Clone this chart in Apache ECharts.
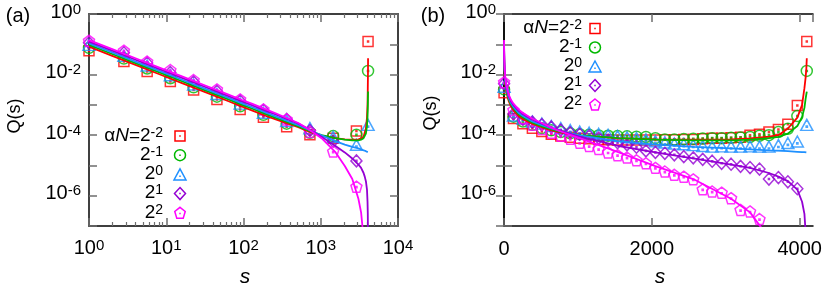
<!DOCTYPE html>
<html><head><meta charset="utf-8">
<script src="https://cdn.jsdelivr.net/npm/echarts@6/dist/echarts.min.js"></script>
<style>html,body{margin:0;padding:0;background:#fff}#c{width:830px;height:290px}</style>
</head><body><div id="c"></div>
<script>
// ---------------- DATA (Q stored as log10 Q) ----------------
const seriesLabels = ['-2', '-1', '0', '1', '2'];          // exponents of alpha*N = 2^k
const colors = ['#ff0000', '#00b800', '#1e90ff', '#9400d3', '#ff00ff'];

// panel (a): log-binned markers
const sA = [1, 2.83, 5.66, 11.3, 22.6, 45.3, 90.5, 181, 362, 724, 1448, 2896, 4096];
const redA     = [-1.21,-1.57,-1.90,-2.23,-2.51,-2.82,-3.15,-3.41,-3.72,-3.99,-4.10,-3.86,-0.91];
const greenA   = [-1.12,-1.47,-1.80,-2.12,-2.42,-2.73,-3.05,-3.33,-3.62,-3.92,-4.03,-3.99,-1.88];
const blueA    = [-1.02,-1.38,-1.70,-2.02,-2.33,-2.64,-2.96,-3.26,-3.53,-3.77,-4.06,-4.32,-3.66];
const purpleA  = [-0.95,-1.28,-1.62,-1.93,-2.24,-2.55,-2.87,-3.18,-3.48,-3.85,-4.20,-4.85,null];
const magentaA = [-0.88,-1.21,-1.57,-1.85,-2.18,-2.49,-2.82,-3.15,-3.48,-3.90,-4.54,-5.70,null];

// panel (b): linear-binned markers
const sB = [1,128,256,384,512,640,768,896,1024,1152,1280,1408,1536,1664,1792,1920,2048,
            2176,2304,2432,2560,2688,2816,2944,3072,3200,3328,3456,3584,3712,3840,3968,4096];
const redB     = [-2.60,-3.45,-3.62,-3.77,-3.88,-3.97,-4.03,-4.07,-4.10,-4.12,-4.14,-4.15,-4.16,-4.16,-4.16,-4.16,-4.16,
                  -4.15,-4.15,-4.14,-4.14,-4.12,-4.10,-4.10,-4.09,-4.07,-4.00,-3.97,-3.90,-3.81,-3.64,-3.02,-0.91];
const greenB   = [-2.49,-3.39,-3.55,-3.66,-3.77,-3.84,-3.90,-3.94,-3.97,-3.99,-4.01,-4.02,-4.03,-4.04,-4.05,-4.06,-4.10,
                  -4.14,-4.14,-4.13,-4.12,-4.11,-4.10,-4.10,-4.09,-4.08,-4.06,-4.02,-4.00,-3.90,-3.79,-3.37,-1.88];
const blueB    = [-2.40,-3.35,-3.45,-3.55,-3.62,-3.70,-3.77,-3.83,-3.88,-3.92,-3.96,-3.99,-4.03,-4.07,-4.10,-4.14,-4.20,
                  -4.24,-4.28,-4.30,-4.33,-4.36,-4.38,-4.37,-4.38,-4.38,-4.37,-4.38,-4.38,-4.33,-4.26,-4.21,-3.66];
const purpleB  = [-2.30,-3.30,-3.48,-3.57,-3.65,-3.73,-3.83,-3.92,-3.97,-4.03,-4.10,-4.16,-4.25,-4.32,-4.40,-4.52,-4.57,
                  -4.60,-4.65,-4.71,-4.75,-4.80,-4.86,-4.93,-4.96,-5.03,-5.07,-5.12,-5.45,-5.40,-5.54,-5.77,null];
const magentaB = [-2.25,-3.17,-3.44,-3.66,-3.80,-3.92,-4.02,-4.12,-4.25,-4.36,-4.46,-4.57,-4.66,-4.74,-4.83,-4.93,-5.08,
                  -5.20,-5.31,-5.37,-5.46,-5.79,-5.86,-5.90,-6.08,-6.47,-6.52,-6.77,null,null,null,null,null];

// theory curves (same in both panels)
const sLine = [1,2,4,8,16,32,64,96,128,192,256,384,512,640,768,1024,1536,2048,2560,3072,3328,3584,3712,3840,3968,4032,4064,4080,4090,4096];
const redL     = [-1.08,-1.38,-1.68,-1.98,-2.28,-2.58,-2.88,-3.06,-3.18,-3.36,-3.47,-3.63,-3.74,-3.84,-3.92,-4.02,-4.10,-4.14,-4.15,-4.14,-4.11,-4.05,-4.00,-3.78,-3.42,-3.00,-2.45,-2.10,-1.80,-1.46];
const greenL   = [-1.02,-1.32,-1.62,-1.92,-2.22,-2.52,-2.82,-3.00,-3.12,-3.30,-3.42,-3.59,-3.71,-3.81,-3.89,-4.00,-4.10,-4.15,-4.17,-4.17,-4.15,-4.10,-4.06,-3.95,-3.70,-3.40,-3.10,-2.80,-2.65,-2.56];
const blueL    = [-0.97,-1.27,-1.57,-1.87,-2.17,-2.47,-2.77,-2.95,-3.07,-3.25,-3.37,-3.55,-3.67,-3.78,-3.87,-4.01,-4.20,-4.31,-4.39,-4.44,-4.47,-4.50,-4.51,-4.53,-4.55,-4.56,-4.56,-4.57,-4.57,-4.57];
const purpleL  = [-0.91,-1.21,-1.51,-1.81,-2.11,-2.41,-2.71,-2.89,-3.01,-3.19,-3.31,-3.49,-3.62,-3.75,-3.86,-4.05,-4.35,-4.57,-4.77,-4.97,-5.08,-5.25,-5.37,-5.52,-5.80,-6.20,-6.60,-7.20,-8.00,-9.00];
const magentaL = [-0.86,-1.16,-1.46,-1.76,-2.06,-2.36,-2.66,-2.84,-2.96,-3.14,-3.27,-3.46,-3.60,-3.75,-3.88,-4.10,-4.55,-5.02,-5.45,-6.10,-6.55,-7.40,-9.00,null,null,null,null,null,null,null];

// ticks / labels
const xTickExpA = [0, 1, 2, 3, 4];
const yTickExp  = [0, -2, -4, -6];
const xTicksB   = [0, 2000, 4000];

// ---------------- RENDER ----------------
const FONT = 'Liberation Sans, Arial, Helvetica, sans-serif';
const markA = [redA, greenA, blueA, purpleA, magentaA];
const markB = [redB, greenB, blueB, purpleB, magentaB];
const lines = [redL, greenL, blueL, purpleL, magentaL];
// unit shapes used for both data symbols and legend keys
const shapes = [
  {pts: [[0,0],[10,0],[10,10],[0,10]], dot: [5,5], size: [10, 10]},
  {circle: true, dot: [5,5], size: [11, 11]},
  {pts: [[5,0],[10,9],[0,9]], dot: [5,6], size: [12, 11]},
  {pts: [[5,0],[10,6],[5,12],[0,6]], dot: [5,6], size: [11, 12]},
  {pts: [[5,0],[9.76,3.45],[7.94,9.05],[2.06,9.05],[0.24,3.45]], dot: [5,5], size: [11, 11]}
];
function symPath(sh) {
  const d = sh.dot;
  const dot = ' M' + (d[0]-0.5) + ',' + (d[1]-0.5) + 'H' + (d[0]+0.5) + 'V' + (d[1]+0.5) + 'H' + (d[0]-0.5) + 'Z';
  if (sh.circle) return 'path://M0,5A5,5,0,1,1,10,5A5,5,0,1,1,0,5Z' + dot;
  return 'path://M' + sh.pts.map(p => p[0] + ',' + p[1]).join('L') + 'Z' + dot;
}
const pair = (xs, ys) => xs.map((x, i) => ys[i] == null ? null : [x, Math.pow(10, ys[i])]).filter(d => d);
const pairLine = (xs, ys) => xs.map((x, i) => [x, ys[i] == null ? null : Math.pow(10, ys[i])]);

const richLab = {
  b: {fontSize: 20, fontFamily: FONT, color: '#000', lineHeight: 24, verticalAlign: 'top'},
  s: {fontSize: 15, fontFamily: FONT, color: '#000', lineHeight: 10, verticalAlign: 'top'}
};
function expLabel(v, list) {
  const e = Math.round(Math.log10(v));
  return list.indexOf(e) >= 0 ? '{b|10}{s|' + e + '}' : '';
}
const mkTick = () => ({show: true, inside: true, length: 8, lineStyle: {color: '#6e6e6e', width: 1.5}});
const mkLine = () => ({show: true, lineStyle: {color: '#000', width: 1.5}});

function logX(grid, pos, labels) {
  return {type: 'log', logBase: 10, gridIndex: grid, position: pos, min: 1, max: 10000,
    axisLine: mkLine(), axisTick: mkTick(),
    minorTick: {show: true, splitNumber: 9, length: 4, lineStyle: {color: '#6e6e6e', width: 1.2}},
    splitLine: {show: false}, minorSplitLine: {show: false},
    axisLabel: labels ? {show: true, margin: 12, showMinLabel: true, showMaxLabel: true,
      formatter: v => expLabel(v, xTickExpA), rich: richLab} : {show: false}};
}
function linX(grid, pos, labels) {
  return {type: 'value', gridIndex: grid, position: pos, min: 0, max: 4180, interval: 2000,
    axisLine: mkLine(), axisTick: mkTick(), splitLine: {show: false},
    axisLabel: labels ? {show: true, margin: 13, showMaxLabel: false,
      formatter: v => xTicksB.indexOf(v) >= 0 ? '{b|' + v + '}' : '', rich: richLab} : {show: false}};
}
function logY(grid, pos, labels) {
  return {type: 'log', logBase: 10, gridIndex: grid, position: pos, min: 1e-7, max: 1,
    axisLine: mkLine(), axisTick: mkTick(), splitLine: {show: false},
    axisLabel: labels ? {show: true, margin: 8, showMinLabel: true, showMaxLabel: true,
      formatter: v => expLabel(v, yTickExp), rich: richLab} : {show: false}};
}

const series = [];
for (let k = 0; k < 5; k++) {
  const base = {type: 'scatter', symbol: symPath(shapes[k]), symbolSize: shapes[k].size, silent: true,
    itemStyle: {color: 'rgba(0,0,0,0)', borderColor: colors[k], borderWidth: 1.5}, z: 2};
  series.push(Object.assign({}, base, {xAxisIndex: 0, yAxisIndex: 0, data: pair(sA, markA[k])}));
  series.push(Object.assign({}, base, {xAxisIndex: 2, yAxisIndex: 2, data: pair(sB, markB[k])}));
}
for (let k = 0; k < 5; k++) {
  const base = {type: 'line', showSymbol: false, symbol: 'none', silent: true, clip: true, z: 3,
    lineStyle: {color: colors[k], width: 1.8}, connectNulls: false};
  series.push(Object.assign({}, base, {xAxisIndex: 0, yAxisIndex: 0, data: pairLine(sLine, lines[k])}));
  series.push(Object.assign({}, base, {xAxisIndex: 2, yAxisIndex: 2, data: pairLine(sLine, lines[k])}));
}

// legend (graphic)
const legRich = {
  t: {fontSize: 19, fontFamily: FONT, color: '#000', lineHeight: 24, verticalAlign: 'top'},
  i: {fontSize: 19, fontFamily: FONT, fontStyle: 'italic', color: '#000', lineHeight: 24, verticalAlign: 'top'},
  s: {fontSize: 14, fontFamily: FONT, color: '#000', lineHeight: 10, verticalAlign: 'top'}
};
const graphic = [];
function legendKey(k, cx, cy) {
  const sh = shapes[k], w = sh.size[0], h = sh.size[1];
  const x0 = cx - w / 2, y0 = cy - h / 2, sx = w / 10, sy = h / (sh.pts ? Math.max(...sh.pts.map(p => p[1])) : 10);
  const st = {fill: 'none', stroke: colors[k], lineWidth: 1.5};
  if (sh.circle) {
    graphic.push({type: 'circle', silent: true, shape: {cx: cx, cy: cy, r: w / 2}, style: st});
  } else {
    graphic.push({type: 'polygon', silent: true,
      shape: {points: sh.pts.map(p => [x0 + p[0] * sx, y0 + p[1] * sy])}, style: st});
  }
  const dx = sh.circle ? cx : x0 + sh.dot[0] * sx, dy = sh.circle ? cy : y0 + sh.dot[1] * sy;
  graphic.push({type: 'rect', silent: true, shape: {x: dx - 0.75, y: dy - 0.75, width: 1.5, height: 1.5},
    style: {fill: colors[k]}});
}
function legend(textRight, markerX, y0, dy) {
  for (let k = 0; k < 5; k++) {
    const y = y0 + k * dy;
    const txt = (k === 0 ? '{t|\u03b1}{i|N}{t|=2}' : '{t|2}') + '{s|' + seriesLabels[k] + '}';
    graphic.push({type: 'text', x: textRight, y: y + 2, silent: true,
      style: {text: txt, rich: legRich, align: 'right', verticalAlign: 'middle'}});
    legendKey(k, markerX, y);
  }
}
legend(163, 180, 136, 19.2);
legend(582, 595, 28.5, 19);

const txtStyle = (t, size, extra) => Object.assign({text: t, fontSize: size, fontFamily: FONT, fill: '#000',
  align: 'center', verticalAlign: 'middle'}, extra || {});
graphic.push({type: 'text', x: 18, y: 16, style: txtStyle('(a)', 20)});
graphic.push({type: 'text', x: 433, y: 16, style: txtStyle('(b)', 20)});
graphic.push({type: 'text', x: 15, y: 116, rotation: Math.PI / 2, style: txtStyle('Q(s)', 18)});
graphic.push({type: 'text', x: 431, y: 113, rotation: Math.PI / 2, style: txtStyle('Q(s)', 18)});
graphic.push({type: 'text', x: 245, y: 277, style: txtStyle('s', 21, {fontStyle: 'italic'})});
graphic.push({type: 'text', x: 660, y: 277, style: txtStyle('s', 21, {fontStyle: 'italic'})});

const chart = echarts.init(document.getElementById('c'), null, {renderer: 'canvas'});
chart.setOption({
  animation: false,
  backgroundColor: '#fff',
  textStyle: {fontFamily: FONT},
  grid: [
    {left: 89, top: 14, width: 309, height: 212, containLabel: false},
    {left: 504, top: 14, width: 309, height: 212, containLabel: false}
  ],
  xAxis: [logX(0, 'bottom', true), logX(0, 'top', false), linX(1, 'bottom', true), linX(1, 'top', false)],
  yAxis: [logY(0, 'left', true), logY(0, 'right', false), logY(1, 'left', true), logY(1, 'right', false)],
  series: series,
  graphic: graphic
});
</script></body></html>
